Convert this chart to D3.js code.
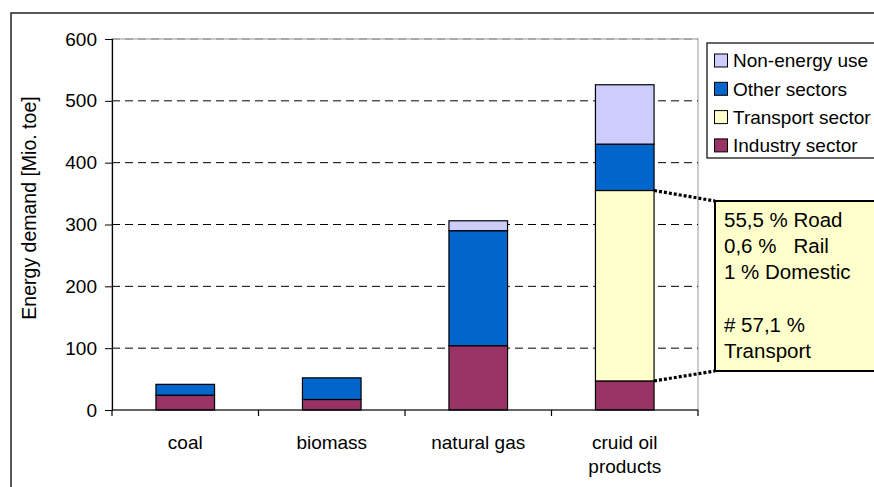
<!DOCTYPE html>
<html>
<head>
<meta charset="utf-8">
<script src="https://cdn.jsdelivr.net/npm/d3@7"></script>
<style>
  html, body { margin: 0; padding: 0; background: #fff; overflow: hidden; }
  svg { display: block; font-family: "Liberation Sans", Arial, sans-serif; }
</style>
</head>
<body>
<svg id="chart" width="874" height="487"></svg>
<script>
// ---- data ----
const categories = ["coal", "biomass", "natural gas", "cruid oil products"];
const seriesNames = ["Industry sector", "Transport sector", "Other sectors", "Non-energy use"];
const industry   = [24, 17, 104, 47];
const transport  = [0, 0, 0, 308];
const other      = [17.5, 35, 186, 75];
const nonEnergy  = [0, 0, 16, 96];
const yTicks = [0, 100, 200, 300, 400, 500, 600];
const calloutLines = ["55,5 % Road", "0,6 %   Rail", "1 % Domestic", "", "# 57,1 %", "Transport"];

const colors = {
  "Industry sector": "#993366",
  "Transport sector": "#FFFFCC",
  "Other sectors": "#0066CC",
  "Non-energy use": "#CCCCFF"
};

// ---- layout ----
const plot = { left: 112, right: 698, top: 39, bottom: 410 };
const svg = d3.select("#chart");

// outer chart border
svg.append("rect").attr("x", 11).attr("y", 13).attr("width", 1000).attr("height", 600)
  .attr("fill", "#fff").attr("stroke", "#222").attr("stroke-width", 1.5);

const x = d3.scaleBand().domain(categories).range([plot.left, plot.right]).padding(0);
const y = d3.scaleLinear().domain([0, 600]).range([plot.bottom, plot.top]);

// plot area border (gray)
svg.append("rect").attr("x", plot.left).attr("y", plot.top)
  .attr("width", plot.right - plot.left).attr("height", plot.bottom - plot.top)
  .attr("fill", "none").attr("stroke", "#A8A8A8").attr("stroke-width", 1.2);

// gridlines
svg.append("g").selectAll("line").data(yTicks.filter(d => d > 0)).join("line")
  .attr("x1", plot.left).attr("x2", plot.right)
  .attr("y1", d => y(d)).attr("y2", d => y(d))
  .attr("stroke", d => d === 600 ? "#888" : "#000").attr("stroke-width", 1)
  .attr("stroke-dasharray", "8,5");

// stacked data
const rows = categories.map((c, i) => ({
  cat: c,
  "Industry sector": industry[i],
  "Transport sector": transport[i],
  "Other sectors": other[i],
  "Non-energy use": nonEnergy[i]
}));
const stacked = d3.stack().keys(seriesNames)(rows);
const barW = x.bandwidth() * 0.4;

const gBars = svg.append("g");
stacked.forEach(layer => {
  gBars.selectAll(null).data(layer.filter(d => d[1] - d[0] > 0)).join("rect")
    .attr("x", d => x(d.data.cat) + (x.bandwidth() - barW) / 2)
    .attr("y", d => y(d[1]))
    .attr("width", barW)
    .attr("height", d => y(d[0]) - y(d[1]))
    .attr("fill", colors[layer.key])
    .attr("stroke", "#000").attr("stroke-width", 1.2);
});

// y axis
const yAxis = svg.append("g").attr("transform", `translate(${plot.left},0)`)
  .call(d3.axisLeft(y).tickValues(yTicks).tickSize(7).tickPadding(8).tickFormat(d3.format("d")));
yAxis.select(".domain").attr("stroke", "#000").attr("stroke-width", 1.2);
yAxis.selectAll(".tick line").attr("stroke", "#000");
yAxis.selectAll("text").attr("font-size", 19).attr("fill", "#000")
  .attr("font-family", "'Liberation Sans', Arial, sans-serif");

// x axis baseline + ticks at category boundaries
svg.append("line").attr("x1", plot.left).attr("x2", plot.right)
  .attr("y1", plot.bottom).attr("y2", plot.bottom).attr("stroke", "#000").attr("stroke-width", 1.2);
const boundaries = categories.map(c => x(c)).concat([x(categories[categories.length - 1]) + x.bandwidth()]);
svg.append("g").selectAll("line").data(boundaries).join("line")
  .attr("x1", d => d).attr("x2", d => d)
  .attr("y1", plot.bottom).attr("y2", plot.bottom + 6)
  .attr("stroke", "#000").attr("stroke-width", 1.2);

// category labels (wrap "cruid oil products")
const catLabels = { "cruid oil products": ["cruid oil", "products"] };
categories.forEach(c => {
  const lines = catLabels[c] || [c];
  const t = svg.append("text").attr("x", x(c) + x.bandwidth() / 2).attr("y", 449)
    .attr("text-anchor", "middle").attr("font-size", 19).attr("fill", "#000");
  lines.forEach((ln, i) => {
    t.append("tspan").attr("x", x(c) + x.bandwidth() / 2).attr("dy", i === 0 ? 0 : 23.5).text(ln);
  });
});

// y axis title
svg.append("text").attr("transform", "translate(36,208) rotate(-90)")
  .attr("text-anchor", "middle").attr("font-size", 19.5).attr("fill", "#000")
  .text("Energy demand [Mio. toe]");

// legend
const legendOrder = ["Non-energy use", "Other sectors", "Transport sector", "Industry sector"];
const lg = svg.append("g");
lg.append("rect").attr("x", 707).attr("y", 43).attr("width", 300).attr("height", 115)
  .attr("fill", "#fff").attr("stroke", "#000").attr("stroke-width", 1.2);
legendOrder.forEach((name, i) => {
  const cy = 60.5 + i * 28.3;
  lg.append("rect").attr("x", 714.5).attr("y", cy - 6.5).attr("width", 13).attr("height", 13)
    .attr("fill", colors[name]).attr("stroke", "#000").attr("stroke-width", 1);
  lg.append("text").attr("x", 733).attr("y", cy + 6.8).attr("font-size", 19).attr("fill", "#000").text(name);
});

// callout for transport segment of crude oil
const oilCat = categories[3];
const barRight = x(oilCat) + (x.bandwidth() + barW) / 2;
const transTop = y(industry[3] + transport[3]);
const transBottom = y(industry[3]);
const box = { x: 715, y: 201, h: 170 };
svg.append("line").attr("x1", barRight).attr("y1", transTop).attr("x2", box.x).attr("y2", box.y)
  .attr("stroke", "#000").attr("stroke-width", 3.2).attr("stroke-dasharray", "3,2");
svg.append("line").attr("x1", barRight).attr("y1", transBottom).attr("x2", box.x).attr("y2", box.y + box.h)
  .attr("stroke", "#000").attr("stroke-width", 3.2).attr("stroke-dasharray", "3,2");
svg.append("rect").attr("x", box.x).attr("y", box.y).attr("width", 300).attr("height", box.h)
  .attr("fill", "#FFFFCC").attr("stroke", "#000").attr("stroke-width", 2);
const ct = svg.append("text").attr("font-size", 20.5).attr("fill", "#000")
  .attr("xml:space", "preserve").style("white-space", "pre");
calloutLines.forEach((ln, i) => {
  ct.append("tspan").attr("x", 724).attr("y", 226.5 + i * 26.3).text(ln);
});
</script>
</body>
</html>
